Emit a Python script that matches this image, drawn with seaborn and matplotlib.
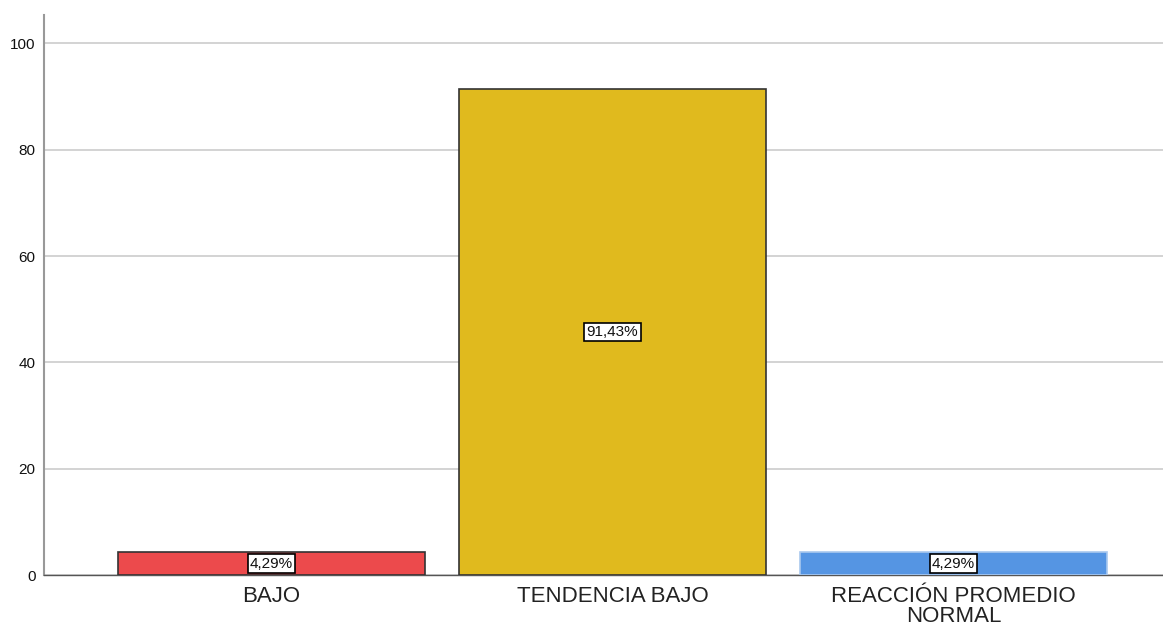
import pandas as pd
import seaborn as sns
import matplotlib.pyplot as plt

# --- DATOS ---
categorias = ["BAJO", "TENDENCIA BAJO", "REACCIÓN PROMEDIO\nNORMAL"]
porcentajes = [4.29, 91.43, 4.29]
etiquetas = ["4,29%", "91,43%", "4,29%"]
colores = ["#EC4A4C", "#E0BA1E", "#5595E3"]
bordes = ["#333333", "#333333", "#A9C8EE"]
y_ticks = [0, 20, 40, 60, 80, 100]

df = pd.DataFrame({"categoria": categorias, "porcentaje": porcentajes})

sns.set_style("white")
plt.rcParams["font.family"] = ["Liberation Sans", "DejaVu Sans"]

fig = plt.figure(figsize=(11.63, 6.31), dpi=100)
ax = fig.add_axes([0.0378, 0.0887, 0.9622, 0.8873])

sns.barplot(data=df, x="categoria", y="porcentaje", hue="categoria",
            palette=colores, saturation=1, width=0.9, legend=False, ax=ax, zorder=3)

for bar, borde in zip(ax.patches, bordes):
    bar.set_edgecolor(borde)
    bar.set_linewidth(1.2)

# etiquetas en el centro de cada barra
for i, (v, txt) in enumerate(zip(porcentajes, etiquetas)):
    ax.text(i, v / 2, txt, ha="center", va="center", fontsize=11, zorder=5,
            color="#111111",
            bbox=dict(boxstyle="square,pad=0.15", facecolor="white",
                      edgecolor="black", linewidth=1.2))

ax.set_xlim(-0.667, 2.614)
ax.set_ylim(0, 105.3)
ax.set_yticks(y_ticks)
ax.set_yticklabels([str(t) for t in y_ticks], fontsize=11, color="#111111")
ax.tick_params(axis="x", labelsize=16, length=0, pad=8)
ax.tick_params(axis="y", length=0, pad=6)
for lbl in ax.get_xticklabels():
    lbl.set_linespacing(0.92)
    lbl.set_color("#222222")
ax.grid(axis="y", color="#CCCCCC", linewidth=1.2, zorder=0)
ax.set_xlabel("")
ax.set_ylabel("")

for lado in ["top", "right"]:
    ax.spines[lado].set_visible(False)
ax.spines["left"].set_color("#999999")
ax.spines["left"].set_linewidth(1.5)
ax.spines["bottom"].set_color("#555555")
ax.spines["bottom"].set_linewidth(1.0)

plt.savefig("out.png", dpi=100)
